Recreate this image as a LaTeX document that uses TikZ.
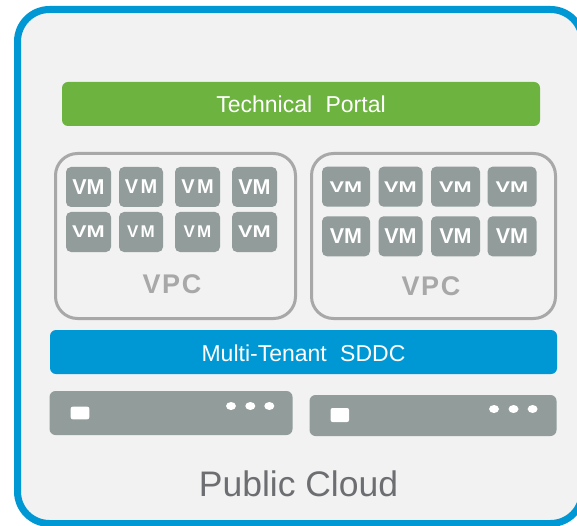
\documentclass[tikz,border=0pt]{standalone}
\usepackage{fontspec}
\setmainfont{Liberation Sans}
\newfontfamily\widesp[WordSpace=2.1]{Liberation Sans}
\newfontfamily\vmsp[LetterSpace=12]{Liberation Sans}
\newfontfamily\vpcsp[LetterSpace=6]{Liberation Sans}
\usetikzlibrary{shapes.geometric}
\definecolor{cloudblue}{HTML}{0098D4}
\definecolor{bggray}{HTML}{F2F2F2}
\definecolor{portalgreen}{HTML}{6DB33F}
\definecolor{vmgray}{HTML}{919C9B}
\definecolor{vpcgray}{HTML}{A8A8A8}
\definecolor{cloudtext}{HTML}{6D6E71}
\newcommand\vmwide[1]{\scalebox{1.28}[1]{#1}}
\newcommand\vmwider[1]{\scalebox{1.4}[1]{#1}}
\tikzset{
  bar/.style={rounded corners=6pt, inner sep=0pt, text=white, text depth=0pt,
    font=\widesp\fontsize{23}{27}\selectfont},
  vmbox/.style={fill=vmgray, rounded corners=5pt, inner sep=0pt, text=white, text depth=0pt,
    minimum height=40pt},
  vmN/.style={vmbox, font=\bfseries\fontsize{21.5}{24}\selectfont},
  vmS/.style={vmbox, font=\vmsp\bfseries\fontsize{20}{22}\selectfont},
  vmT/.style={vmbox, font=\vmsp\bfseries\fontsize{17}{20}\selectfont},
  vmW/.style={vmbox, font=\bfseries\fontsize{17}{20}\selectfont},
  vmX/.style={vmbox, font=\bfseries\fontsize{15.5}{18}\selectfont},
  vpc/.style={draw=vpcgray, line width=3pt, rounded corners=22pt, inner sep=0pt},
  vpclabel/.style={text=vpcgray, anchor=base, inner sep=0pt,
    font=\vpcsp\bfseries\fontsize{27}{30}\selectfont},
  server/.style={fill=vmgray, rounded corners=6pt, inner sep=0pt},
  slot/.style={fill=white, rounded corners=2pt, inner sep=0pt},
  led/.style={fill=white, ellipse, inner sep=0pt, minimum width=10pt, minimum height=8pt},
}
\begin{document}
\begin{tikzpicture}[x=1pt,y=-1pt]
\useasboundingbox (0,0) rectangle (577,526);
\fill[white] (0,0) rectangle (577,526);
% outer cloud container
\node[draw=cloudblue, fill=bggray, line width=7pt, rounded corners=32pt, inner sep=0pt,
  minimum width=565pt, minimum height=514pt] (cloud) at (300,266.5) {};
% technical portal
\node[bar, fill=portalgreen, minimum width=478pt, minimum height=44pt, text height=16.6pt]
  (portal) at (301,104) {Technical Portal};
% VPC containers
\node[vpc, minimum width=240pt, minimum height=165pt] (vpcL) at (175.5,236) {};
\node[vpc, minimum width=244pt, minimum height=165pt] (vpcR) at (433.5,236) {};
\node[vpclabel] (vpcLt) at (172,293) {VPC};
\node[vpclabel] (vpcRt) at (431,295) {VPC};
% left VMs
\node[vmN, minimum width=45pt] (l11) at (88.5,187) {VM};
\node[vmS, minimum width=44pt] (l12) at (141,187) {VM};
\node[vmS, minimum width=45pt] (l13) at (197.5,187) {VM};
\node[vmN, minimum width=45pt] (l14) at (254.5,187) {VM};
\node[vmW, minimum width=45pt] (l21) at (88.5,232) {\vmwide{VM}};
\node[vmT, minimum width=44pt] (l22) at (141,232) {VM};
\node[vmT, minimum width=45pt] (l23) at (197.5,232) {VM};
\node[vmW, minimum width=45pt] (l24) at (254.5,232) {\vmwide{VM}};
% right VMs
\node[vmX, minimum width=48pt] (r11) at (346,186.7) {\vmwider{VM}};
\node[vmX, minimum width=44pt] (r12) at (400.5,186.7) {\vmwider{VM}};
\node[vmX, minimum width=49pt] (r13) at (455.5,186.7) {\vmwider{VM}};
\node[vmX, minimum width=49pt] (r14) at (512,186.7) {\vmwider{VM}};
\node[vmN, minimum width=48pt] (r21) at (346,236.3) {VM};
\node[vmN, minimum width=44pt] (r22) at (400.5,236.3) {VM};
\node[vmN, minimum width=49pt] (r23) at (455.5,236.3) {VM};
\node[vmN, minimum width=49pt] (r24) at (512,236.3) {VM};
% SDDC bar
\node[bar, fill=cloudblue, minimum width=507pt, minimum height=44pt, text height=19pt]
  (sddc) at (303.5,352) {Multi-Tenant SDDC};
% servers
\node[server, minimum width=243pt, minimum height=44pt] (srvL) at (171,413) {};
\node[server, minimum width=247pt, minimum height=41pt] (srvR) at (433,415.5) {};
\node[slot, minimum width=18.6pt, minimum height=12.6pt] (slotL) at (80,413) {};
\node[slot, minimum width=18.5pt, minimum height=14pt] (slotR) at (339.8,415) {};
\node[led] (ledL1) at (231,406) {};
\node[led] (ledL2) at (250.3,406) {};
\node[led] (ledL3) at (269.3,406) {};
\node[led] (ledR1) at (494,409) {};
\node[led] (ledR2) at (513.5,409) {};
\node[led] (ledR3) at (532.6,409) {};
% label
\node[text=cloudtext, anchor=base, inner sep=0pt, font=\fontsize{35.5}{40}\selectfont]
  (cloudlabel) at (298.5,496) {Public Cloud};
\end{tikzpicture}
\end{document}
